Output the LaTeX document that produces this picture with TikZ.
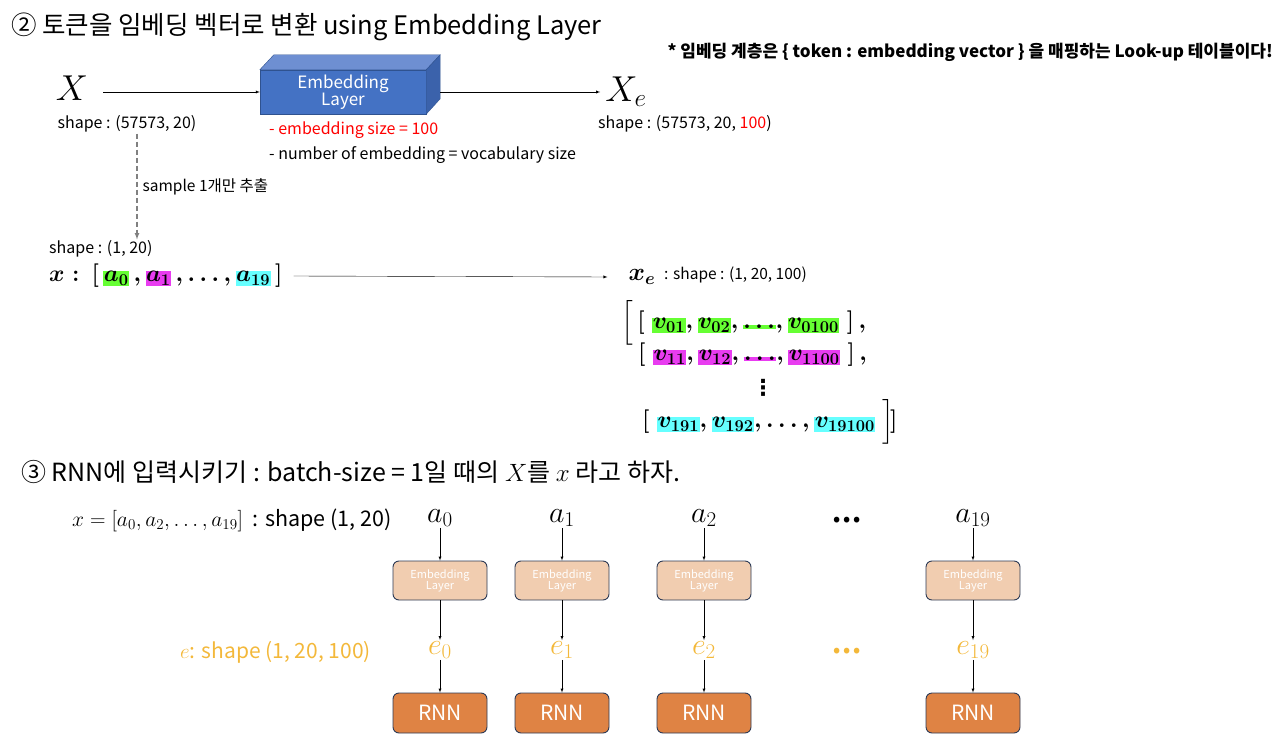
\RequirePackage{fix-cm}
\documentclass[tikz,border=0pt]{standalone}
\usepackage{amsmath}
\usepackage{fontspec}
\setmainfont{Noto Sans CJK KR}
\newfontfamily\djv{DejaVu Sans}
\usepackage{xcolor}
\usetikzlibrary{arrows,positioning}

\definecolor{embblue}{HTML}{4472C4}
\definecolor{embtop}{HTML}{6E8FD2}
\definecolor{embside}{HTML}{3B62AB}
\definecolor{embedge}{HTML}{2F528F}
\definecolor{peach}{HTML}{F1CDB0}
\definecolor{rnnorange}{HTML}{DF8344}
\definecolor{boxedge}{HTML}{2C3A55}
\definecolor{eorange}{HTML}{F3B83A}
\definecolor{hlgreen}{HTML}{66FF33}
\definecolor{hlpink}{HTML}{E83CF0}
\definecolor{hlcyan}{HTML}{66FFFF}
\definecolor{shapered}{HTML}{FF0000}

\newcommand{\hl}[2]{{\setlength{\fboxsep}{0.5pt}\colorbox{#1}{$#2$}}}
\newcommand{\fs}[1]{\fontsize{#1}{#1}\selectfont}

\begin{document}
\begin{tikzpicture}[x=1pt, y=-1pt, >=latex,
    every node/.style={inner sep=1pt},
    lbl/.style={font=\fs{16}},
    embbox/.style={draw=embedge, fill=embblue, minimum width=166pt, minimum height=44pt,
        text=white, align=center, inner sep=0pt, font=\fs{17}},
    smallemb/.style={draw=boxedge, line width=0.9pt, rounded corners=6pt, fill=peach,
        minimum width=94pt, minimum height=39pt, text=white, align=center,
        inner sep=0pt, font=\fs{11}},
    rnnbox/.style={draw=boxedge, line width=0.9pt, rounded corners=6pt, fill=rnnorange,
        minimum width=94pt, minimum height=40pt, text=white, inner sep=0pt, font=\fs{21}}]
    \useasboundingbox (0,0) rectangle (1280,749);

    % Titulo 2
    \node[anchor=west, font=\fs{25.5}] (title2) at (10,27) {② 토큰을 임베딩 벡터로 변환 using Embedding Layer};
    \node[anchor=east, font=\bfseries\fs{17}] (note) at (1274,52)
        {* 임베딩 계층은 \{ token : embedding vector \} 을 매핑하는 Look-up 테이블이다!};

    % X -> Embedding Layer -> X_e
    \node[font=\fs{36}] (X) at (72,88) {$X$};
    \node[embbox] (emb) at (343,92) {Embedding\\Layer};
    \draw[fill=embtop, draw=embedge] (emb.north west) -- ++(14,-15) -- ++(166,0)
        -- ([xshift=14pt,yshift=15pt]emb.north east) -- (emb.north east) -- cycle;
    \draw[fill=embside, draw=embedge] (emb.north east) -- ++(14,-15) -- ++(0,44)
        -- (emb.south east) -- cycle;
    \node[font=\fs{36}] (Xe) at (626,92) {$X_e$};
    \draw[->] ([xshift=14pt]X.east |- emb.west) -- (emb.west);
    \draw[->] ([xshift=14pt]emb.east) -- ([xshift=-4pt]Xe.west |- emb.east);

    \node[lbl] (shpX) at (127,124) {shape : (57573, 20)};
    \node[lbl, anchor=west, text=shapered] (esize) at (268,130) {- embedding size = 100};
    \node[lbl, anchor=west] (enum) at (268,155) {- number of embedding = vocabulary size};
    \node[lbl, anchor=west] (shpXe) at (597,124) {shape : (57573, 20, \textcolor{shapered}{100})};

    % amostra
    \node[lbl, anchor=west] (shpx) at (48,249) {shape : (1, 20)};
    \draw[->, gray, line width=1.2pt, dash pattern=on 5pt off 3pt]
        ([xshift=10pt]shpX.south) -- ([xshift=10pt]shpX.south |- shpx.north)
        node[midway, right=4pt, text=black, font=\fs{15.5}] (smp) {sample 1개만 추출};

    \node[anchor=west, font=\boldmath\fs{23.5}] (xrow) at (48,276)
        {$x:\,[\,\hl{hlgreen}{a_0}\,,\hl{hlpink}{a_1}\,,\ldots,\hl{hlcyan}{a_{19}}\,]$};
    \node[font=\boldmath\fs{25}] (xe) at (642,277) {$x_e$};
    \node[anchor=west, font=\fs{15.5}] (shpxe) at (663,275) {: shape : (1, 20, 100)};
    \draw[->] ([xshift=10pt]xrow.east) -- ([xshift=-20pt]xe.west);

    % matriz x_e
    \node[anchor=west, font=\boldmath\fs{23.5}] (r1) at (620,323)
        {$\Big[\,[\;\hl{hlgreen}{v_{01}},\hl{hlgreen}{v_{02}},\hl{hlgreen}{\ldots},\hl{hlgreen}{v_{0100}}\;]\,,$};
    \node[anchor=west, font=\boldmath\fs{23.5}] (r2) at (637,355)
        {$[\;\hl{hlpink}{v_{11}},\hl{hlpink}{v_{12}},\hl{hlpink}{\ldots},\hl{hlpink}{v_{1100}}\;]\,,$};
    \node[font=\djv\bfseries\fs{22}] (rdots) at (763,388) {⋮};
    \node[anchor=west, font=\boldmath\fs{23.5}] (r3) at (641,422)
        {$[\;\hl{hlcyan}{v_{191}},\hl{hlcyan}{v_{192}},\ldots,\hl{hlcyan}{v_{19100}}\;\Big]\!]$};

    % Titulo 3
    \node[anchor=west, font=\fs{25}] (title3) at (20,472)
        {③ RNN에 입력시키기 : batch-size = 1일 때의 $X$를 $x$ 라고 하자.};
    \node[anchor=west, font=\fs{21.5}] (xdef) at (71,520)
        {$x=[a_0,a_2,\ldots,a_{19}]$ \ : shape (1, 20)};
    \node[anchor=east, font=\fs{21}, text=eorange] (edef) at (372,652) {$e$: shape (1, 20, 100)};

    % colunas
    \foreach \i/\x/\s in {0/440/0, 1/562/1, 2/704/2, 3/973/19} {
        \node[font=\fs{30}] (a\i) at (\x,518) {$a_{\s}$};
        \node[smallemb] (emb\i) at (\x,580.5) {Embedding\\Layer};
        \node[font=\fs{30}, text=eorange] (e\i) at (\x,650) {$e_{\s}$};
        \node[rnnbox] (rnn\i) at (\x,713) {RNN};
        \draw[->] (a\i) -- (emb\i);
        \draw[->] (emb\i) -- (e\i);
        \draw[->] (e\i) -- (rnn\i);
    }
    \node[font=\bfseries\fs{18}] (dots1) at (847,521) {\textbullet\,\textbullet\,\textbullet};
    \node[font=\bfseries\fs{18}, text=eorange] (dots2) at (847,652) {\textbullet\,\textbullet\,\textbullet};
\end{tikzpicture}
\end{document}
